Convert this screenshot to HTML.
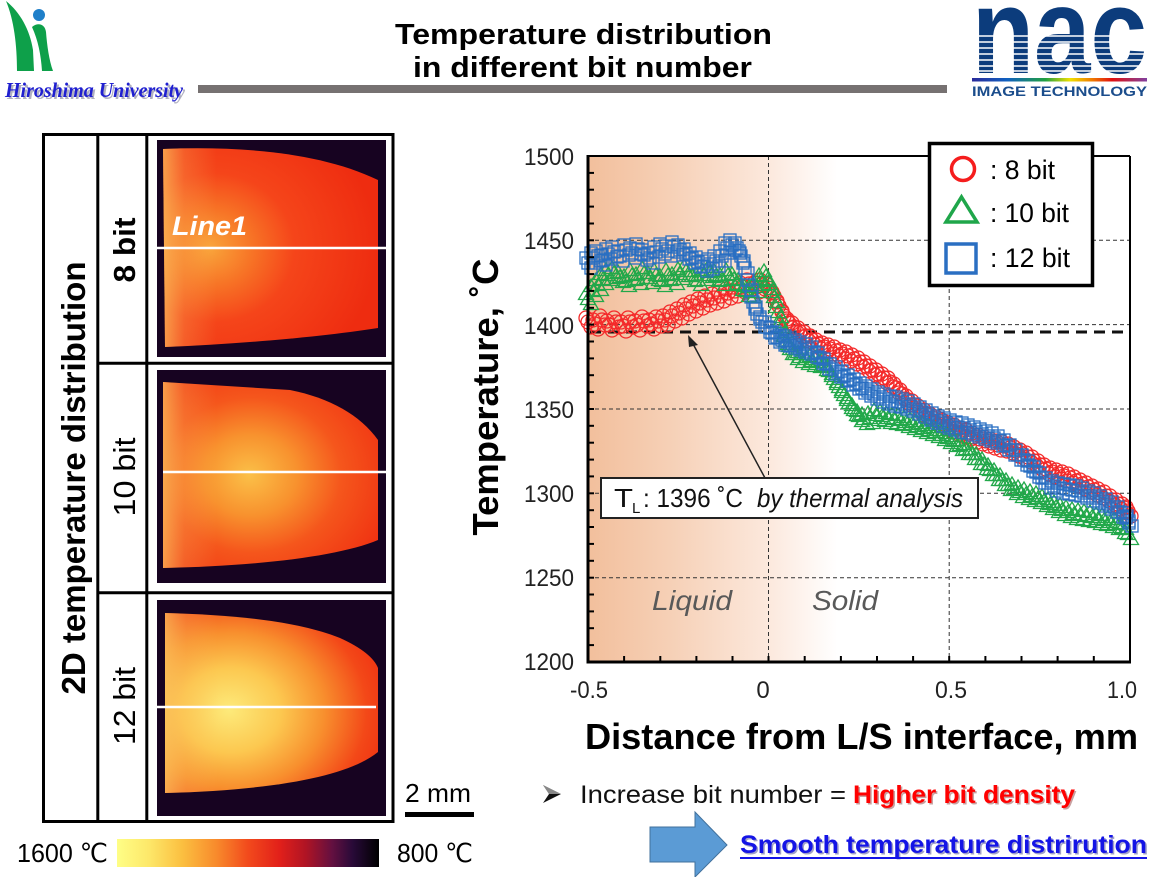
<!DOCTYPE html>
<html><head><meta charset="utf-8"><style>html,body{margin:0;padding:0;background:#fff}svg{display:block}</style></head>
<body>
<svg width="1162" height="877" viewBox="0 0 1162 877" xmlns="http://www.w3.org/2000/svg" font-family="'Liberation Sans', Arial, sans-serif">
<defs>
<linearGradient id="bgG" gradientUnits="userSpaceOnUse" x1="588" y1="0" x2="1130" y2="0">
<stop offset="0" stop-color="#f2bf9c"/><stop offset="0.15" stop-color="#f6d0b6"/><stop offset="0.33" stop-color="#fce8dc"/><stop offset="0.46" stop-color="#ffffff"/><stop offset="1" stop-color="#ffffff"/>
</linearGradient>
<radialGradient id="h1" cx="0.25" cy="0.5" r="0.75" fx="0.22" fy="0.5">
<stop offset="0" stop-color="#f9a43a"/><stop offset="0.25" stop-color="#f77426"/><stop offset="0.5" stop-color="#f5451a"/><stop offset="1" stop-color="#ee2c10"/>
</radialGradient>
<radialGradient id="h2" cx="0.42" cy="0.5" r="0.72" fx="0.4" fy="0.5">
<stop offset="0" stop-color="#fbc048"/><stop offset="0.3" stop-color="#f8922e"/><stop offset="0.58" stop-color="#f5561c"/><stop offset="1" stop-color="#ef2c10"/>
</radialGradient>
<radialGradient id="h3" cx="0.33" cy="0.54" r="0.78" fx="0.3" fy="0.54">
<stop offset="0" stop-color="#fdea7a"/><stop offset="0.3" stop-color="#fcc850"/><stop offset="0.55" stop-color="#f8902e"/><stop offset="0.8" stop-color="#f34818"/><stop offset="1" stop-color="#ef2c10"/>
</radialGradient>
<linearGradient id="edge" x1="0" y1="0" x2="1" y2="0">
<stop offset="0" stop-color="#fbc860" stop-opacity="0.7"/><stop offset="0.1" stop-color="#fbc060" stop-opacity="0.25"/><stop offset="0.25" stop-color="#fbc060" stop-opacity="0"/>
</linearGradient>
<linearGradient id="cb" x1="0" y1="0" x2="1" y2="0">
<stop offset="0" stop-color="#fefe86"/><stop offset="0.12" stop-color="#fde86a"/><stop offset="0.25" stop-color="#fbbf40"/><stop offset="0.38" stop-color="#f88a2c"/><stop offset="0.5" stop-color="#f24a1c"/><stop offset="0.62" stop-color="#e2201a"/><stop offset="0.72" stop-color="#b01424"/><stop offset="0.82" stop-color="#641040"/><stop offset="0.9" stop-color="#280a38"/><stop offset="1" stop-color="#000000"/>
</linearGradient>
<linearGradient id="rb" x1="0" y1="0" x2="1" y2="0">
<stop offset="0" stop-color="#2a2a9a"/><stop offset="0.2" stop-color="#1060c0"/><stop offset="0.42" stop-color="#20a040"/><stop offset="0.56" stop-color="#f0e000"/><stop offset="0.68" stop-color="#f08000"/><stop offset="0.8" stop-color="#e01010"/><stop offset="1" stop-color="#8040a0"/>
</linearGradient>
<marker id="mR" markerWidth="20" markerHeight="20" refX="10" refY="10" markerUnits="userSpaceOnUse" overflow="visible"><circle cx="10" cy="10" r="7" fill="none" stroke="#f42a2a" stroke-width="1.3"/></marker>
<marker id="mG" markerWidth="20" markerHeight="20" refX="10" refY="10.5" markerUnits="userSpaceOnUse" overflow="visible"><polygon points="10,2.5 17.5,15 2.5,15" fill="none" stroke="#22a84a" stroke-width="1.3"/></marker>
<marker id="mB" markerWidth="20" markerHeight="20" refX="10" refY="10" markerUnits="userSpaceOnUse" overflow="visible"><rect x="4" y="4" width="12" height="12" fill="none" stroke="#2a6fc2" stroke-width="1.3"/></marker>
<polyline id="pR" fill="none" stroke="none" marker-start="url(#mR)" marker-mid="url(#mR)" marker-end="url(#mR)" points="588,322 595,324 602,320 609,325 616,322 623,326 630,322 637,325 644,321 651,324 658,321 665,320 672,316 679,313 686,309 693,306 700,303 707,300 714,298 721,296 728,293 735,291 742,287 749,284 756,287 762,284 768,288 774,296 779,306 784,316 789,323 794,327 800,332 806,336 812,340 818,344 824,347 830,349 836,351 842,354 848,356 854,359 860,362 866,366 872,370 878,374 884,378 890,382 896,388 902,394 908,400 914,405 920,410 926,414 932,418 938,421 944,424 950,427 956,429 962,432 968,434 974,437 980,439 986,441 992,443 998,445 1004,446 1010,448 1016,451 1022,454 1028,457 1034,461 1040,465 1046,469 1052,472 1058,474 1064,476 1070,478 1076,481 1082,484 1088,487 1094,490 1100,493 1106,496 1112,500 1118,504 1124,508 1128,511"/>
<polyline id="pG" fill="none" stroke="none" marker-start="url(#mG)" marker-mid="url(#mG)" marker-end="url(#mG)" points="588,300 593,292 598,286 603,280 608,276 614,274 620,278 626,282 632,276 638,280 644,274 650,279 656,276 662,282 668,276 674,280 680,275 686,272 692,277 698,281 704,276 710,273 716,277 722,281 728,276 734,280 740,286 746,292 751,293 756,288 761,281 766,277 770,285 774,298 778,313 782,328 786,342 790,350 795,355 800,358 806,360 812,362 818,363 824,366 829,372 834,380 839,388 844,396 849,404 854,411 859,417 864,420 870,419 876,416 882,417 888,419 894,420 900,421 906,423 912,425 918,427 924,429 930,431 936,433 942,436 948,439 954,442 960,446 966,450 972,455 978,460 984,465 990,471 996,476 1002,481 1008,486 1014,490 1020,493 1026,495 1032,497 1038,499 1044,502 1050,505 1056,508 1062,511 1068,513 1074,515 1080,516 1086,517 1092,518 1098,520 1104,521 1110,523 1116,525 1122,529 1128,535"/>
<polyline id="pB" fill="none" stroke="none" marker-start="url(#mB)" marker-mid="url(#mB)" marker-end="url(#mB)" points="588,263 593,258 598,256 603,260 608,254 614,252 620,256 626,250 632,253 638,249 644,255 650,258 656,252 662,249 668,251 674,247 680,250 686,254 692,258 698,262 704,266 710,264 716,261 722,256 727,248 732,245 737,248 741,256 745,268 749,285 753,302 757,314 762,322 767,327 772,333 777,337 782,340 787,341 792,343 797,345 802,347 808,349 814,352 820,358 826,364 832,369 838,372 844,376 850,380 856,384 862,388 868,391 874,394 880,397 886,399 892,401 898,402 904,404 910,406 916,409 922,412 928,415 934,418 940,421 946,423 952,425 958,427 964,428 970,430 976,432 982,434 988,436 994,438 1000,441 1006,445 1012,450 1018,455 1024,460 1030,466 1036,472 1042,478 1048,483 1054,486 1060,488 1066,489 1072,490 1078,491 1084,493 1090,496 1096,498 1102,501 1108,504 1114,507 1120,512 1126,518 1129,521"/>
</defs>

<rect x="0" y="0" width="1162" height="877" fill="#fff"/>

<!-- Hiroshima logo -->
<path d="M6,1 C20,12 30,30 33,50 L34,71 L17,71 C17,45 14,20 6,1 Z" fill="#0ea04a"/>
<path d="M32,27 C38,22 45,24 46,32 C47,45 49,60 53,71 L42,71 C41,55 38,40 32,27 Z" fill="#0ea04a"/>
<circle cx="39" cy="15" r="6" fill="#1f7fc9"/>
<text x="7" y="99" font-family="'Liberation Serif', serif" font-weight="bold" font-style="italic" font-size="21" fill="#b0b0c0" textLength="178" lengthAdjust="spacingAndGlyphs">Hiroshima University</text>
<text x="5" y="97" font-family="'Liberation Serif', serif" font-weight="bold" font-style="italic" font-size="21" fill="#1f1fd0" textLength="178" lengthAdjust="spacingAndGlyphs">Hiroshima University</text>

<!-- Title -->
<rect x="198" y="85" width="749" height="8" fill="#767171"/>
<text x="395" y="44" font-size="29" font-weight="bold" fill="#000" textLength="377" lengthAdjust="spacingAndGlyphs">Temperature distribution</text>
<text x="413" y="77" font-size="29" font-weight="bold" fill="#000" textLength="339" lengthAdjust="spacingAndGlyphs">in different bit number</text>

<!-- nac logo -->
<text x="972" y="73" font-size="122" font-weight="bold" fill="#0c3c7c" textLength="175" lengthAdjust="spacingAndGlyphs">nac</text>
<g stroke="#fff" stroke-width="1.6">
<line x1="970" y1="36" x2="1150" y2="36"/><line x1="970" y1="42" x2="1150" y2="42"/><line x1="970" y1="48" x2="1150" y2="48"/><line x1="970" y1="54" x2="1150" y2="54"/><line x1="970" y1="60" x2="1150" y2="60"/><line x1="970" y1="66" x2="1150" y2="66"/><line x1="970" y1="71" x2="1150" y2="71"/>
</g>
<rect x="972" y="78" width="175" height="3.5" fill="url(#rb)"/>
<text x="972" y="96" font-size="14" font-weight="bold" fill="#1b4d8c" textLength="175" lengthAdjust="spacingAndGlyphs">IMAGE TECHNOLOGY</text>

<!-- Heat maps -->
<rect x="157" y="140" width="229" height="217" fill="#170321"/>
<path d="M163,149 C240,146 320,152 378,180 L378,328 C320,337 240,344 165,347 Z" fill="url(#h1)"/>
<path d="M163,149 C240,146 320,152 378,180 L378,328 C320,337 240,344 165,347 Z" fill="url(#edge)"/>
<rect x="157" y="370" width="229" height="213" fill="#170321"/>
<path d="M163,382 L290,390 C330,398 360,415 378,440 L378,540 C340,556 260,566 163,568 Z" fill="url(#h2)"/>
<path d="M163,382 L290,390 C330,398 360,415 378,440 L378,540 C340,556 260,566 163,568 Z" fill="url(#edge)"/>
<rect x="157" y="600" width="229" height="216" fill="#170321"/>
<path d="M165,613 C240,615 300,622 340,638 C362,648 374,658 378,668 L378,752 C350,775 280,790 165,793 Z" fill="url(#h3)"/>
<path d="M165,613 C240,615 300,622 340,638 C362,648 374,658 378,668 L378,752 C350,775 280,790 165,793 Z" fill="url(#edge)"/>
<g stroke="#fff" stroke-width="2.5">
<line x1="157" y1="248" x2="386" y2="248"/>
<line x1="163" y1="472" x2="386" y2="472"/>
<line x1="147" y1="707" x2="376" y2="707"/>
</g>
<text x="172" y="235" font-size="27" font-weight="bold" font-style="italic" fill="#fff" textLength="75" lengthAdjust="spacingAndGlyphs">Line1</text>

<!-- Table lines -->
<g stroke="#000" stroke-width="3" fill="none">
<rect x="43.5" y="134.5" width="349.5" height="687"/>
<line x1="97.8" y1="134" x2="97.8" y2="822"/>
<line x1="146.8" y1="134" x2="146.8" y2="822"/>
<line x1="98" y1="363.3" x2="393" y2="363.3"/>
<line x1="98" y1="592.7" x2="393" y2="592.7"/>
</g>
<text transform="translate(85,478) rotate(-90)" text-anchor="middle" font-size="33" font-weight="bold" textLength="433" lengthAdjust="spacingAndGlyphs">2D temperature distribution</text>
<text transform="translate(135,250) rotate(-90)" text-anchor="middle" font-size="31" font-weight="bold" textLength="65" lengthAdjust="spacingAndGlyphs">8 bit</text>
<text transform="translate(135,477) rotate(-90)" text-anchor="middle" font-size="31" textLength="79" lengthAdjust="spacingAndGlyphs">10 bit</text>
<text transform="translate(135,706) rotate(-90)" text-anchor="middle" font-size="31" textLength="78" lengthAdjust="spacingAndGlyphs">12 bit</text>

<!-- scale bar and colorbar -->
<text x="405" y="802" font-size="26" textLength="66" lengthAdjust="spacingAndGlyphs">2 mm</text>
<rect x="405" y="812" width="69" height="5" fill="#000"/>
<rect x="117" y="839" width="262" height="28" fill="url(#cb)"/>
<text x="17" y="862" font-size="26" textLength="91" lengthAdjust="spacingAndGlyphs">1600 ℃</text>
<text x="397" y="862" font-size="26" textLength="76" lengthAdjust="spacingAndGlyphs">800 ℃</text>

<!-- Chart -->
<rect x="588" y="156" width="542" height="506" fill="url(#bgG)"/>
<g stroke="#333" stroke-width="1" stroke-dasharray="4,3">
<line x1="588" y1="240.3" x2="1130" y2="240.3"/>
<line x1="588" y1="324.6" x2="1130" y2="324.6"/>
<line x1="588" y1="409" x2="1130" y2="409"/>
<line x1="588" y1="493.3" x2="1130" y2="493.3"/>
<line x1="588" y1="577.7" x2="1130" y2="577.7"/>
<line x1="768.5" y1="156" x2="768.5" y2="662"/>
<line x1="949.2" y1="156" x2="949.2" y2="662"/>
</g>
<line x1="590" y1="332" x2="1130" y2="332" stroke="#111" stroke-width="3" stroke-dasharray="11,7"/>

<use href="#pR"/>
<use href="#pR" transform="translate(3,5)"/>
<use href="#pR" transform="translate(-2,-4)"/>
<use href="#pG"/>
<use href="#pG" transform="translate(3,5)"/>
<use href="#pG" transform="translate(-2,-5)"/>
<use href="#pB"/>
<use href="#pB" transform="translate(3,5)"/>
<use href="#pB" transform="translate(-2,-5)"/>

<g stroke="#000" fill="none">
<line x1="588" y1="155" x2="588" y2="663.5" stroke-width="3"/>
<line x1="586.5" y1="662" x2="1131" y2="662" stroke-width="3"/>
<line x1="588" y1="156" x2="1130" y2="156" stroke-width="2"/>
<line x1="1130" y1="156" x2="1130" y2="662" stroke-width="2"/>
</g>
<g stroke="#000" stroke-width="2">
<line x1="588" y1="172.9" x2="594" y2="172.9"/><line x1="588" y1="189.7" x2="594" y2="189.7"/><line x1="588" y1="206.6" x2="594" y2="206.6"/><line x1="588" y1="223.5" x2="594" y2="223.5"/><line x1="588" y1="240.3" x2="594" y2="240.3"/>
<line x1="588" y1="257.2" x2="594" y2="257.2"/><line x1="588" y1="274.1" x2="594" y2="274.1"/><line x1="588" y1="290.9" x2="594" y2="290.9"/><line x1="588" y1="307.8" x2="594" y2="307.8"/><line x1="588" y1="324.6" x2="594" y2="324.6"/>
<line x1="588" y1="341.5" x2="594" y2="341.5"/><line x1="588" y1="358.4" x2="594" y2="358.4"/><line x1="588" y1="375.2" x2="594" y2="375.2"/><line x1="588" y1="392.1" x2="594" y2="392.1"/><line x1="588" y1="409" x2="594" y2="409"/>
<line x1="588" y1="425.8" x2="594" y2="425.8"/><line x1="588" y1="442.7" x2="594" y2="442.7"/><line x1="588" y1="459.6" x2="594" y2="459.6"/><line x1="588" y1="476.4" x2="594" y2="476.4"/><line x1="588" y1="493.3" x2="594" y2="493.3"/>
<line x1="588" y1="510.2" x2="594" y2="510.2"/><line x1="588" y1="527" x2="594" y2="527"/><line x1="588" y1="543.9" x2="594" y2="543.9"/><line x1="588" y1="560.8" x2="594" y2="560.8"/><line x1="588" y1="577.7" x2="594" y2="577.7"/>
<line x1="588" y1="594.5" x2="594" y2="594.5"/><line x1="588" y1="611.4" x2="594" y2="611.4"/><line x1="588" y1="628.2" x2="594" y2="628.2"/><line x1="588" y1="645.1" x2="594" y2="645.1"/>
<line x1="624.1" y1="656" x2="624.1" y2="662"/><line x1="660.3" y1="656" x2="660.3" y2="662"/><line x1="696.4" y1="656" x2="696.4" y2="662"/><line x1="732.5" y1="656" x2="732.5" y2="662"/><line x1="768.5" y1="656" x2="768.5" y2="662"/>
<line x1="804.7" y1="656" x2="804.7" y2="662"/><line x1="840.9" y1="656" x2="840.9" y2="662"/><line x1="877" y1="656" x2="877" y2="662"/><line x1="913.1" y1="656" x2="913.1" y2="662"/><line x1="949.2" y1="656" x2="949.2" y2="662"/>
<line x1="985.4" y1="656" x2="985.4" y2="662"/><line x1="1021.5" y1="656" x2="1021.5" y2="662"/><line x1="1057.6" y1="656" x2="1057.6" y2="662"/><line x1="1093.8" y1="656" x2="1093.8" y2="662"/>
</g>

<!-- tick labels -->
<g font-size="24" fill="#222" text-anchor="end">
<text x="574" y="165" textLength="50" lengthAdjust="spacingAndGlyphs">1500</text>
<text x="574" y="249" textLength="50" lengthAdjust="spacingAndGlyphs">1450</text>
<text x="574" y="334" textLength="50" lengthAdjust="spacingAndGlyphs">1400</text>
<text x="574" y="418" textLength="50" lengthAdjust="spacingAndGlyphs">1350</text>
<text x="574" y="502" textLength="50" lengthAdjust="spacingAndGlyphs">1300</text>
<text x="574" y="586" textLength="50" lengthAdjust="spacingAndGlyphs">1250</text>
<text x="574" y="670" textLength="50" lengthAdjust="spacingAndGlyphs">1200</text>
</g>
<g font-size="24" fill="#222" text-anchor="middle">
<text x="589" y="698" textLength="38" lengthAdjust="spacingAndGlyphs">-0.5</text>
<text x="763" y="698">0</text>
<text x="951" y="698" textLength="32" lengthAdjust="spacingAndGlyphs">0.5</text>
<text x="1122" y="698" textLength="30" lengthAdjust="spacingAndGlyphs">1.0</text>
</g>

<text transform="translate(498,397) rotate(-90)" text-anchor="middle" font-size="36" font-weight="bold" textLength="277" lengthAdjust="spacingAndGlyphs">Temperature, ˚C</text>
<text x="585" y="749" font-size="36" font-weight="bold" textLength="553" lengthAdjust="spacingAndGlyphs">Distance from L/S interface, mm</text>

<text x="652" y="610" font-size="28" font-style="italic" fill="#595959" textLength="80" lengthAdjust="spacingAndGlyphs">Liquid</text>
<text x="812" y="610" font-size="28" font-style="italic" fill="#595959" textLength="66" lengthAdjust="spacingAndGlyphs">Solid</text>

<!-- arrow & annotation -->
<line x1="765" y1="478" x2="692" y2="342" stroke="#222" stroke-width="1.5"/>
<polygon points="688,335 698,345 689,347" fill="#222"/>
<rect x="601" y="478" width="377" height="40" fill="#fff" stroke="#222" stroke-width="2"/>
<text x="614" y="507" font-size="26" fill="#111" textLength="19" lengthAdjust="spacingAndGlyphs">T</text>
<text x="632" y="513" font-size="15" fill="#111">L</text>
<text x="643" y="507" font-size="26" fill="#111" textLength="100" lengthAdjust="spacingAndGlyphs">: 1396 ˚C</text>
<text x="757" y="507" font-size="26" font-style="italic" fill="#111" textLength="206" lengthAdjust="spacingAndGlyphs">by thermal analysis</text>

<!-- legend -->
<rect x="929.5" y="143.5" width="163" height="142" fill="#fff" stroke="#000" stroke-width="3.5"/>
<circle cx="963" cy="169" r="11.5" fill="none" stroke="#f51d1d" stroke-width="3.5"/>
<polygon points="961.5,197 977,222 946,222" fill="none" stroke="#1fa64a" stroke-width="3.5" stroke-linejoin="miter"/>
<rect x="946" y="244" width="30" height="29" fill="none" stroke="#2a6fc2" stroke-width="3.5"/>
<text x="990" y="179" font-size="27" textLength="65" lengthAdjust="spacingAndGlyphs">: 8 bit</text>
<text x="990" y="222" font-size="27" textLength="79" lengthAdjust="spacingAndGlyphs">: 10 bit</text>
<text x="990" y="267" font-size="27" textLength="80" lengthAdjust="spacingAndGlyphs">: 12 bit</text>

<!-- bottom notes -->
<polygon points="543,785 561,794 543,803 549,794" fill="#111"/>
<polygon points="543,785 561,794 549,794" fill="#fff" opacity="0.5"/>
<text x="580" y="803" font-size="25" fill="#111" textLength="266" lengthAdjust="spacingAndGlyphs">Increase bit number =</text>
<text x="854.5" y="804.5" font-size="25" font-weight="bold" fill="#c8a0a0" textLength="222" lengthAdjust="spacingAndGlyphs">Higher bit density</text>
<text x="853" y="803" font-size="25" font-weight="bold" fill="#ff0000" textLength="222" lengthAdjust="spacingAndGlyphs">Higher bit density</text>
<polygon points="650,827 695,827 695,812 727,845 695,877 695,862 650,862" fill="#5b9bd5" stroke="#41719c" stroke-width="1"/>
<text x="741.5" y="854.5" font-size="25" font-weight="bold" fill="#a0a0c8" textLength="407" lengthAdjust="spacingAndGlyphs">Smooth temperature distrirution</text>
<text x="740" y="853" font-size="25" font-weight="bold" fill="#1414e6" textLength="407" lengthAdjust="spacingAndGlyphs">Smooth temperature distrirution</text>
<rect x="740" y="857" width="407" height="2" fill="#1414e6"/>
</svg>
</body></html>
